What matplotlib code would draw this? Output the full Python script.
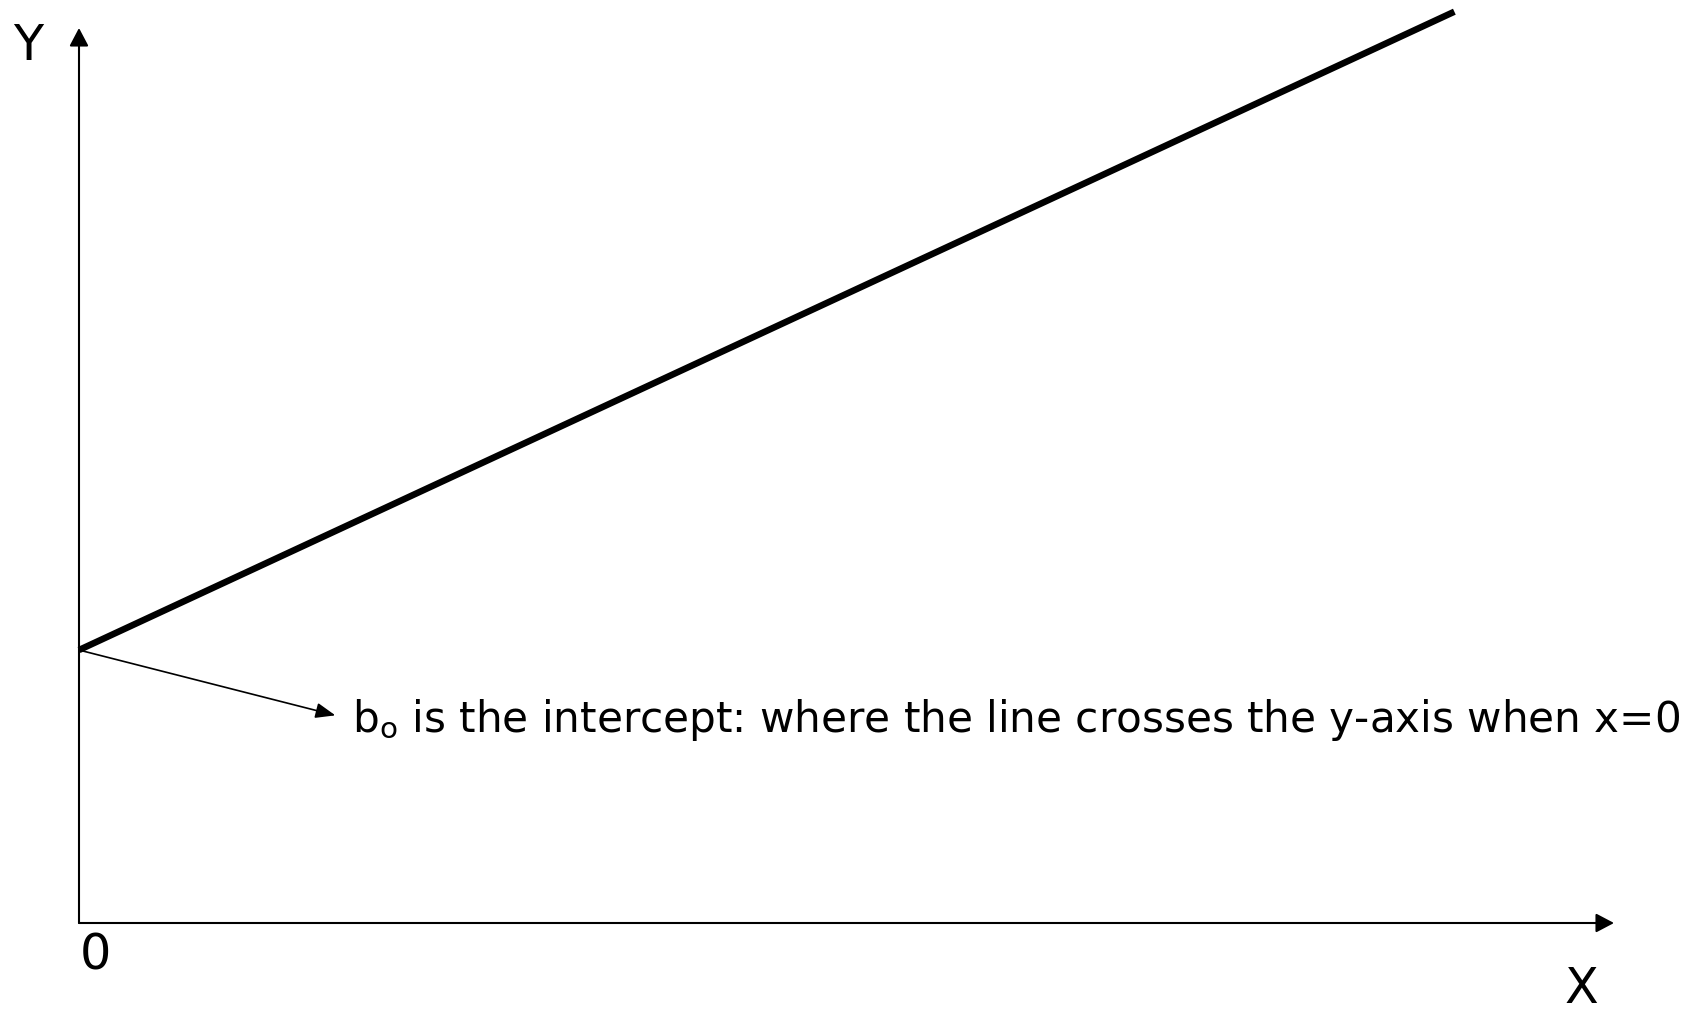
import matplotlib

matplotlib.use("Agg")
import matplotlib.pyplot as plt

# Regression line y = b0 + b1 * x
b0 = 3.05
b1 = 0.796
x_line = [0, 8.96]
y_line = [b0 + b1 * x for x in x_line]

# Annotation arrow: from the intercept to the note
note_tip = (1.67, 2.32)
note_pos = (1.78, 2.13)
note_text = r"b$_\mathrm{o}$ is the intercept: where the line crosses the y-axis when x=0"

fig = plt.figure(figsize=(16.88, 10.10), dpi=100)
# axes box: origin at pixel (79, 923), x runs to 1614, y to 28
ax = fig.add_axes([79 / 1688, (1010 - 923) / 1010, (1614 - 79) / 1688, (923 - 28) / 1010])
ax.set_xlim(0, 10)
ax.set_ylim(0, 10)
ax.axis("off")

# axes drawn as arrows
axis_arrow = dict(arrowstyle="-|>,head_length=11,head_width=5.8", mutation_scale=1,
                  lw=1.5, color="black", shrinkA=0, shrinkB=0)
ax.annotate("", xy=(0, 10), xytext=(0, 0), arrowprops=axis_arrow, annotation_clip=False)
ax.annotate("", xy=(10, 0), xytext=(0, 0), arrowprops=axis_arrow, annotation_clip=False)

# the line itself
ax.plot(x_line, y_line, color="black", lw=4.7, solid_capstyle="butt", clip_on=False)

# pointer to the explanation
note_arrow = dict(arrowstyle="-|>,head_length=12,head_width=4.7", mutation_scale=1,
                  lw=1.2, color="black", shrinkA=0, shrinkB=0)
ax.annotate("", xy=note_tip, xytext=(0, b0), arrowprops=note_arrow, annotation_clip=False)
ax.text(note_pos[0], note_pos[1], note_text, fontsize=30.3, ha="left", va="baseline")

ax.text(-0.33, 9.64, "Y", fontsize=35.5, ha="center", va="baseline")
ax.text(0.104, -0.525, "0", fontsize=35.5, ha="center", va="baseline")
ax.text(9.785, -0.894, "X", fontsize=35.5, ha="center", va="baseline")

plt.savefig("out.png", dpi=100)
